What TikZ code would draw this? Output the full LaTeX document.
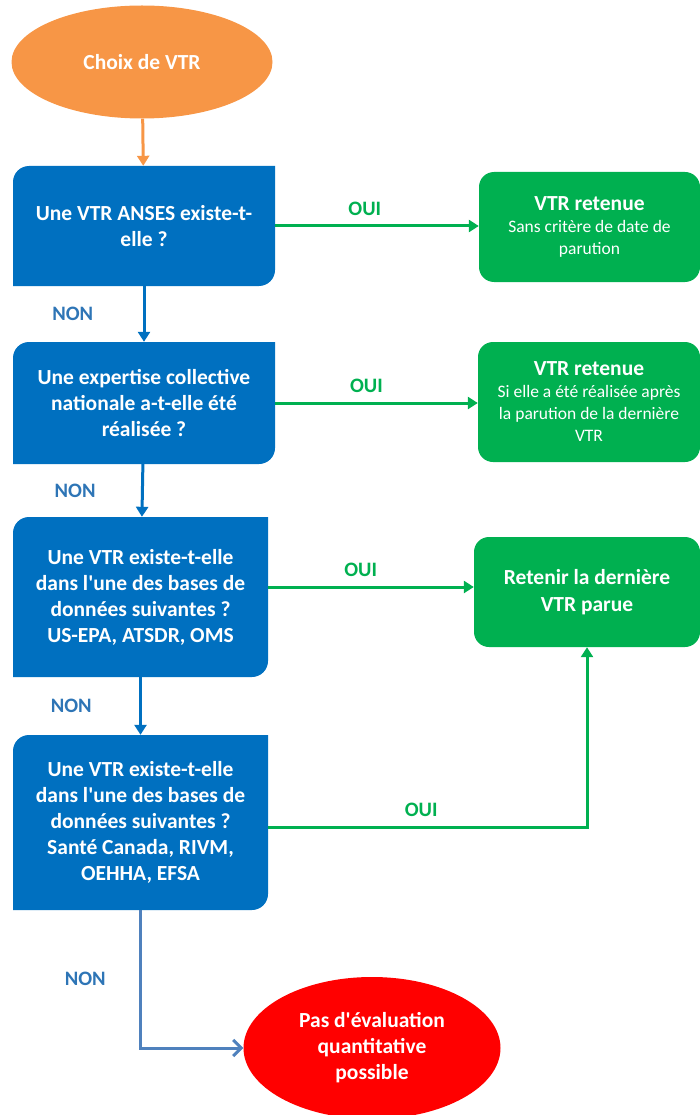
\documentclass[tikz,border=0pt]{standalone}
\usepackage{fontspec}
\setmainfont{Carlito}
\usetikzlibrary{arrows.meta,shapes.geometric}
\definecolor{qblue}{HTML}{0070C0}
\definecolor{okgreen}{HTML}{00B050}
\definecolor{startor}{HTML}{F79646}
\definecolor{stopred}{HTML}{FF0000}
\definecolor{nonblue}{HTML}{2E75B6}
\definecolor{lastblue}{HTML}{4F81BD}
\newcommand\gtitle{\fontsize{21.5}{22}\selectfont\bfseries}

\begin{document}
\begin{tikzpicture}[x=1pt,y=1pt,
  q/.style={rectangle,inner sep=0pt,align=center,text=white,
    font=\fontsize{21.5}{26}\selectfont\bfseries,
    path picture={\fill[qblue] (path picture bounding box.north east)
      -- ([yshift=16pt]path picture bounding box.south east)
      arc[start angle=0,end angle=-90,radius=16pt]
      -- (path picture bounding box.south west)
      -- ([yshift=-16pt]path picture bounding box.north west)
      arc[start angle=180,end angle=90,radius=16pt] -- cycle;}},
  g/.style={rectangle,rounded corners=15pt,fill=okgreen,inner sep=0pt,align=center,
    text=white,font=\fontsize{17.5}{22}\selectfont},
  gb/.style={font=\fontsize{21.5}{27}\selectfont\bfseries},
  ell/.style={ellipse,inner sep=0pt,align=center,text=white,
    font=\fontsize{21.5}{26}\selectfont\bfseries},
  ed/.style={-{Triangle[length=10pt,width=12pt]},line width=3pt},
  edl/.style={-{Straight Barb[length=8pt,width=16pt]},line width=3pt,lastblue},
  non/.style={font=\fontsize{20.5}{22}\selectfont\bfseries,text=nonblue},
  oui/.style={font=\fontsize{20.5}{22}\selectfont\bfseries,text=okgreen}]
\useasboundingbox (0,0) rectangle (700,-1115);
\node[ell,fill=startor,minimum width=261pt,minimum height=113pt] (choix) at (142,-62) {Choix de VTR};
\node[q,minimum width=262pt,minimum height=120pt] (q1) at (144,-226)
  {Une VTR ANSES existe-t-\\elle ?};
\node[q,minimum width=262pt,minimum height=122pt] (q2) at (144,-403)
  {Une expertise collective\\nationale a-t-elle été\\réalisée ?};
\node[q,minimum width=255pt,minimum height=160pt] (q3) at (140.5,-597)
  {Une VTR existe-t-elle\\dans l\textquotesingle une des bases de\\données suivantes ?\\US-EPA, ATSDR, OMS};
\node[q,minimum width=255pt,minimum height=175pt] (q4) at (140.5,-822.5)
  {Une VTR existe-t-elle\\dans l\textquotesingle une des bases de\\données suivantes ?\\Santé Canada, RIVM,\\OEHHA, EFSA};
\node[ell,fill=stopred,minimum width=257pt,minimum height=142pt] (stop) at (372,-1048)
  {Pas d\textquotesingle évaluation\\quantitative\\possible};
\node[g,minimum width=221pt,minimum height=110pt] (g1) at (589.5,-227)
  {{\gtitle VTR retenue}\\Sans critère de date de\\parution};
\node[g,minimum width=222pt,minimum height=120pt] (g2) at (589,-402)
  {{\gtitle VTR retenue}\\Si elle a été réalisée après\\la parution de la dernière\\VTR};
\node[g,gb,minimum width=226pt,minimum height=110pt] (g3) at (587,-592)
  {Retenir la dernière\\VTR parue};
\draw[ed,startor] (choix) -- (q1);
\draw[ed,qblue] (q1) -- node[non,left=46pt]{NON} (q2);
\draw[ed,qblue] (q2) -- node[non,left=42pt]{NON} (q3);
\draw[ed,qblue] (q3) -- node[non,left=44pt]{NON} (q4);
\draw[edl] (q4.south) |- node[non,pos=.25,left=30pt]{NON} (stop.west);
\draw[ed,okgreen] (q1.east) -- node[oui,above=6pt,pos=.44]{OUI} (q1.east -| g1.west);
\draw[ed,okgreen] (q2.east) -- node[oui,above=6pt,pos=.45]{OUI} (q2.east -| g2.west);
\draw[ed,okgreen] ([yshift=10pt]q3.east) -- node[oui,above=6pt,pos=.45]{OUI} ([yshift=10pt]q3.east -| g3.west);
\draw[ed,okgreen] ([yshift=-5pt]q4.east) -| node[oui,above=6pt,pos=.24]{OUI} (g3.south);
\end{tikzpicture}
\end{document}
